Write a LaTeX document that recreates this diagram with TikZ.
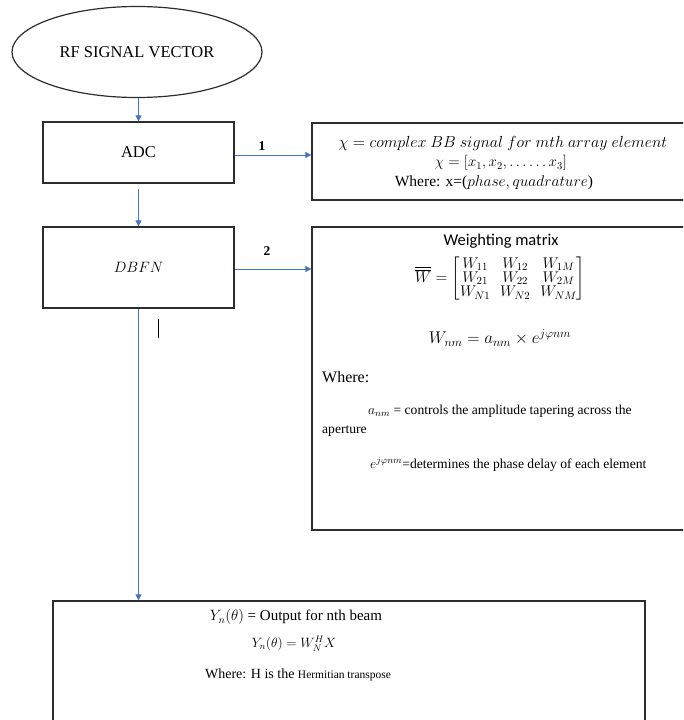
\RequirePackage{fix-cm}
\documentclass[tikz,border=0pt]{standalone}
\usepackage{amsmath}
\usepackage{fontspec}
\setmainfont{Liberation Serif}
\newfontfamily\calibrifont{Carlito}
\usetikzlibrary{shapes.geometric,arrows.meta}

\definecolor{flowblue}{RGB}{68,114,196}
\definecolor{boxline}{RGB}{45,45,45}

\newcommand{\fs}[1]{\fontsize{#1}{#1}\selectfont}

\tikzset{
  blockbox/.style={draw=boxline, line width=1.3pt, rectangle, inner sep=0pt},
  flow/.style={draw=flowblue, line width=0.9pt, -{Triangle[width=6pt,length=6pt]}},
  txt/.style={inner sep=0pt, font=\fs{15}},
  small/.style={inner sep=0pt, font=\fs{13.6}},
  big/.style={inner sep=0pt, font=\fs{16.5}},
  numlabel/.style={inner sep=0pt, font=\fs{13.5}\bfseries}
}

\begin{document}
\begin{tikzpicture}[x=1pt,y=-1pt]
\useasboundingbox (0,0) rectangle (683,720);
\clip (0,0) rectangle (683,720);

% main chain
\node[draw=boxline, line width=1.2pt, ellipse, minimum width=250pt, minimum height=91pt, big] (rf) at (137,52) {RF SIGNAL VECTOR};
\node[blockbox, minimum width=191pt, minimum height=61pt, big] (adc) at (138.5,152.5) {ADC};
\node[blockbox, minimum width=191pt, minimum height=81pt, txt] (dbfn) at (138.5,267.5) {$DBFN$};

% side boxes (they run past the right edge)
\node[blockbox, minimum width=388pt, minimum height=77pt] (sig) at (506,161.5) {};
\node[blockbox, minimum width=388pt, minimum height=303pt] (wgt) at (506,378.5) {};

% output box (runs past the bottom edge)
\node[blockbox, minimum width=592pt, minimum height=139pt] (out) at (349,670.5) {};

% connectors
\draw[flow] (adc.north |- rf.south) -- (adc.north);
\draw[flow, shorten <=5pt] (adc.south) -- (dbfn.north);
\draw[flow] ([yshift=-2.5pt]adc.east) -- ([yshift=-2.5pt]adc.east -| sig.west);
\draw[flow] ([yshift=-1.5pt]dbfn.east) -- ([yshift=-1.5pt]dbfn.east -| wgt.west);
\draw[flow] (dbfn.south) -- (dbfn.south |- out.north);

\node[numlabel] (one) at (262,146) {1};
\node[numlabel] (two) at (267,251) {2};
\node[inner sep=0pt] (cursor) at (158,328) {\rule{0.9pt}{19pt}};

% signal description
\node[inner sep=0pt, font=\fs{16}] (s1) at (503,143) {$\chi = complex\ BB\ signal\ for\ mth\ array\ element$};
\node[txt] (s2) at (501,163) {$\chi = [x_1, x_2, \ldots\ldots x_3]$};
\node[inner sep=0pt, font=\fs{15.5}] (s3) at (494,183) {Where: x=($phase, quadrature$)};

% weighting description
\node[inner sep=0pt, font=\calibrifont\fs{16.5}] (wt) at (501,241) {Weighting matrix};
\node[inner sep=0pt, font=\fs{15.5}] (wm) at (500,279) {$\overline{\overline{W}} = \renewcommand{\arraystretch}{0.78}\setlength{\arraycolsep}{5pt}\begin{bmatrix} W_{11} & W_{12} & W_{1M}\\ W_{21} & W_{22} & W_{2M}\\ W_{N1} & W_{N2} & W_{NM}\end{bmatrix}$};
\node[inner sep=0pt, font=\fs{17}] (wnm) at (500,338) {$W_{nm} = a_{nm} \times e^{j\varphi nm}$};
\node[inner sep=0pt, anchor=west, font=\fs{16}] (where) at (322,377) {Where:};
\node[small, anchor=west] (amp) at (368,411) {$a_{nm}$ = controls the amplitude tapering across the};
\node[small, anchor=west] (ap) at (322,431) {aperture};
\node[small, anchor=west] (ph) at (370,464) {$e^{j\varphi nm}$=determines the phase delay of each element};

% output description
\node[txt] (o1) at (296,617) {$Y_n(\theta)$ = Output for nth beam};
\node[inner sep=0pt, font=\fs{13.5}] (o2) at (294,644) {$Y_n(\theta) = W_N^H X$};
\node[inner sep=0pt, font=\fs{14}] (o3) at (298,675) {Where: H is the {\fs{11.5}Hermitian transpose}};
\end{tikzpicture}
\end{document}
